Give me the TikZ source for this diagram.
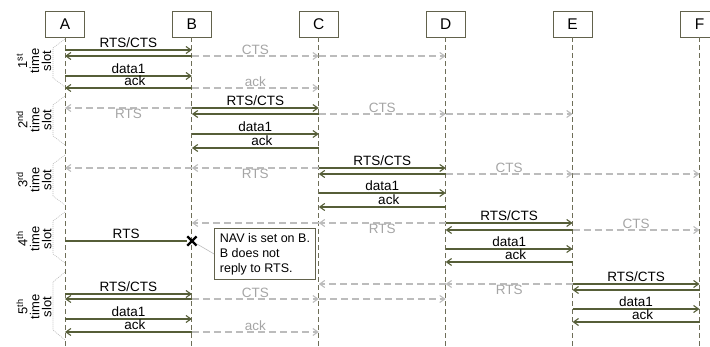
\documentclass[tikz,border=0pt]{standalone}
\usepackage{fontspec}
\setmainfont{Liberation Sans}
\usepackage{xcolor}
\usepackage{tikz}
\usetikzlibrary{positioning,arrows.meta,shapes.misc}
\definecolor{gverde}{RGB}{86,94,56}
\definecolor{gborde}{RGB}{98,98,76}
\definecolor{gvida}{RGB}{110,110,88}
\definecolor{geco}{RGB}{188,188,188}
\definecolor{getiq}{RGB}{165,165,165}

\begin{document}
\begin{tikzpicture}[x=1pt, y=-1pt, node distance=87pt,
    font=\fontsize{13.5}{15}\selectfont,
    station/.style={draw=gborde, line width=0.9pt, minimum width=39pt, minimum height=26pt,
      inner sep=0pt, font=\fontsize{15.5}{17}\selectfont},
    lifeline/.style={gvida, line width=0.9pt, dash pattern=on 5pt off 3pt},
    msg/.style={-{Straight Barb[length=5pt,width=7pt]}, gverde, line width=1.1pt},
    echo/.style={-{Straight Barb[length=5pt,width=7pt]}, geco, line width=1.1pt, dash pattern=on 7pt off 4pt},
    lbl/.style={midway, anchor=base, yshift=2pt, inner sep=0pt, text=black},
    elbl/.style={midway, anchor=base, yshift=1.5pt, inner sep=0pt, text=getiq},
    elblb/.style={midway, anchor=base, yshift=-11pt, inner sep=0pt, text=getiq},
    slotbrace/.style={geco, line width=0.6pt, dash pattern=on 1pt off 1pt},
    slotlbl/.style={rotate=90, align=center, font=\fontsize{13}{12}\selectfont},
    note/.style={draw=gborde, line width=0.9pt, fill=white, align=left, inner sep=3pt,
      minimum width=101pt, minimum height=51pt, font=\fontsize{12.5}{15}\selectfont}]
  \useasboundingbox (0,0) rectangle (710,347);

  % stations
  \node[station] (A) at (65,24) {A};
  \node[station, right=of A] (B) {B};
  \node[station, right=of B] (C) {C};
  \node[station, right=of C] (D) {D};
  \node[station, right=of D] (E) {E};
  \node[station, right=of E] (F) {F};
  \draw[lifeline] (A.south) -- (A |- 0,347);
  \draw[lifeline] (B.south) -- (B |- 0,347);
  \draw[lifeline] (C.south) -- (C |- 0,347);
  \draw[lifeline] (D.south) -- (D |- 0,347);
  \draw[lifeline] (E.south) -- (E |- 0,347);
  \draw[lifeline] (F.south) -- (F |- 0,347);

  % time slots
  \draw[slotbrace] (65,39) -- (53,48) -- (53,78) -- (65,87);
  \draw[slotbrace] (65,96) -- (53,105) -- (53,136) -- (65,145);
  \draw[slotbrace] (65,155) -- (53,164) -- (53,196) -- (65,205);
  \draw[slotbrace] (65,212) -- (53,221) -- (53,254) -- (65,263);
  \draw[slotbrace] (65,272) -- (53,282) -- (53,330) -- (65,340);
  \node[slotlbl] (slot1) at (34,61) {1\textsuperscript{st}\\time\\slot};
  \node[slotlbl] (slot2) at (34,120) {2\textsuperscript{nd}\\time\\slot};
  \node[slotlbl] (slot3) at (34,180) {3\textsuperscript{rd}\\time\\slot};
  \node[slotlbl] (slot4) at (34,239) {4\textsuperscript{th}\\time\\slot};
  \node[slotlbl] (slot5) at (34,307) {5\textsuperscript{th}\\time\\slot};

  % 1st slot: A -> B
  \draw[msg] (A |- 0,50) -- (B |- 0,50) node[lbl] {RTS/CTS};
  \draw[msg] (B |- 0,56) -- (A |- 0,56);
  \draw[echo] (B |- 0,56) -- (C |- 0,56) node[elbl] {CTS};
  \draw[echo] (C |- 0,56) -- (D |- 0,56);
  \draw[msg] (A |- 0,76) -- (B |- 0,76) node[lbl] {data1};
  \draw[msg] (B |- 0,88) -- (A |- 0,88) node[lbl, xshift=6.5pt] {ack};
  \draw[echo] (B |- 0,88) -- (C |- 0,88) node[elbl] {ack};

  % 2nd slot: B -> C
  \draw[msg] (B |- 0,108) -- (C |- 0,108) node[lbl] {RTS/CTS};
  \draw[echo] (B |- 0,108) -- (A |- 0,108) node[elblb] {RTS};
  \draw[msg] (C |- 0,114) -- (B |- 0,114);
  \draw[echo] (C |- 0,114) -- (D |- 0,114) node[elbl] {CTS};
  \draw[echo] (D |- 0,114) -- (E |- 0,114);
  \draw[msg] (B |- 0,134) -- (C |- 0,134) node[lbl] {data1};
  \draw[msg] (C |- 0,148) -- (B |- 0,148) node[lbl, xshift=6.5pt] {ack};

  % 3rd slot: C -> D
  \draw[msg] (C |- 0,168) -- (D |- 0,168) node[lbl] {RTS/CTS};
  \draw[echo] (C |- 0,168) -- (B |- 0,168) node[elblb] {RTS};
  \draw[echo] (B |- 0,168) -- (A |- 0,168);
  \draw[msg] (D |- 0,174) -- (C |- 0,174);
  \draw[echo] (D |- 0,174) -- (E |- 0,174) node[elbl] {CTS};
  \draw[echo] (E |- 0,174) -- (F |- 0,174);
  \draw[msg] (C |- 0,193) -- (D |- 0,193) node[lbl] {data1};
  \draw[msg] (D |- 0,207) -- (C |- 0,207) node[lbl, xshift=6.5pt] {ack};

  % 4th slot: D -> E, A is blocked at B
  \draw[msg] (D |- 0,223) -- (E |- 0,223) node[lbl] {RTS/CTS};
  \draw[echo] (D |- 0,223) -- (C |- 0,223) node[elblb] {RTS};
  \draw[echo] (C |- 0,223) -- (B |- 0,223);
  \draw[msg] (E |- 0,230) -- (D |- 0,230);
  \draw[echo] (E |- 0,230) -- (F |- 0,230) node[elbl] {CTS};
  \draw[msg] (D |- 0,249) -- (E |- 0,249) node[lbl] {data1};
  \draw[msg] (E |- 0,262) -- (D |- 0,262) node[lbl, xshift=6.5pt] {ack};
  \node[note, anchor=north west] (nav) at (214,228) {NAV is set on B.\\B does not\\reply to RTS.};
  \node[cross out, draw=black, line width=2.3pt, minimum size=7pt, inner sep=0pt] (navx) at (B |- 0,241) {};
  \draw[gverde, line width=1.1pt] (A |- navx) -- (navx) node[lbl] {RTS};
  \draw[geco, line width=0.6pt] (navx) -- (nav.west);

  % 5th slot: E -> F and A -> B
  \draw[msg] (E |- 0,284) -- (F |- 0,284) node[lbl] {RTS/CTS};
  \draw[echo] (E |- 0,284) -- (D |- 0,284) node[elblb] {RTS};
  \draw[echo] (D |- 0,284) -- (C |- 0,284);
  \draw[msg] (F |- 0,290) -- (E |- 0,290);
  \draw[msg] (E |- 0,309) -- (F |- 0,309) node[lbl] {data1};
  \draw[msg] (F |- 0,322) -- (E |- 0,322) node[lbl, xshift=6.5pt] {ack};
  \draw[msg] (A |- 0,294) -- (B |- 0,294) node[lbl] {RTS/CTS};
  \draw[msg] (B |- 0,299) -- (A |- 0,299);
  \draw[echo] (B |- 0,299) -- (C |- 0,299) node[elbl] {CTS};
  \draw[echo] (C |- 0,299) -- (D |- 0,299);
  \draw[msg] (A |- 0,319) -- (B |- 0,319) node[lbl] {data1};
  \draw[msg] (B |- 0,332) -- (A |- 0,332) node[lbl, xshift=6.5pt] {ack};
  \draw[echo] (B |- 0,332) -- (C |- 0,332) node[elbl] {ack};
\end{tikzpicture}
\end{document}
